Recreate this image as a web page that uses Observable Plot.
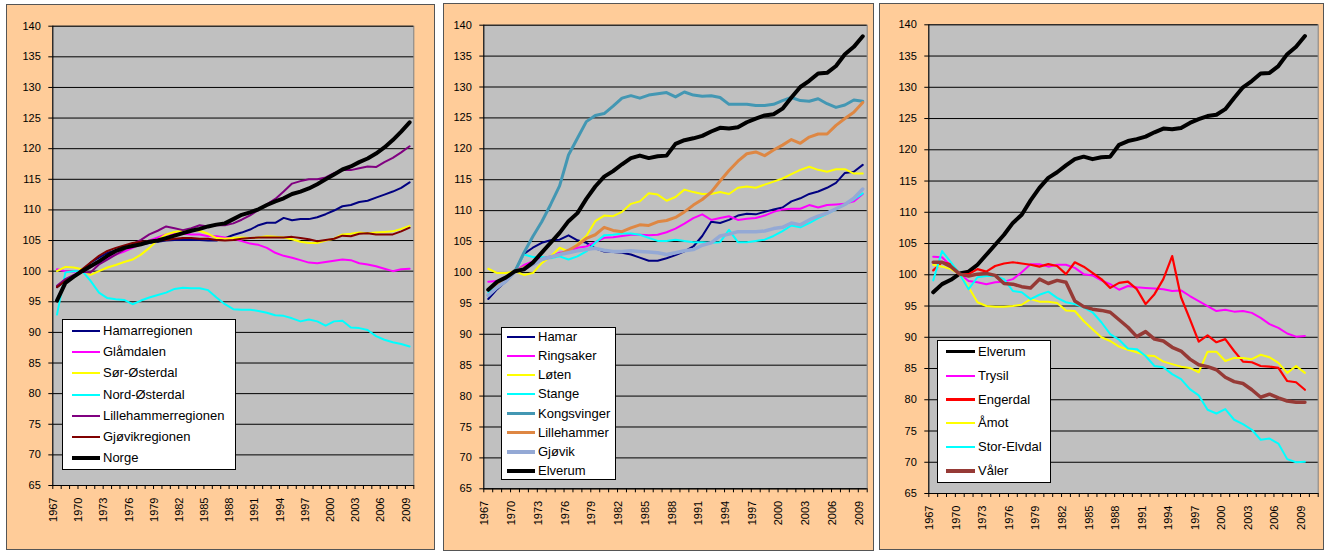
<!DOCTYPE html>
<html>
<head>
<meta charset="utf-8">
<script src="https://cdn.jsdelivr.net/npm/d3@7"></script>
<script src="https://cdn.jsdelivr.net/npm/@observablehq/plot@0.6"></script>
<style>
  html, body { margin: 0; padding: 0; background: #fff; }
  body { width: 1326px; height: 551px; position: relative; overflow: hidden;
         font-family: "Liberation Sans", Arial, sans-serif; }
  .panel { position: absolute; background: #FFCC99; border: 1px solid #555; box-sizing: border-box; }
  .chart { position: absolute; top: 0; }
  .legend { position: absolute; background: #fff; border: 1px solid #000; box-sizing: border-box; }
  .lg-line { position: absolute; }
  .lg-text { position: absolute; font-size: 13px; line-height: 16px; height: 16px; color: #000; white-space: nowrap; }
</style>
</head>
<body>
<script>
// ---------- data ----------
const years = [1967,1968,1969,1970,1971,1972,1973,1974,1975,1976,
               1977,1978,1979,1980,1981,1982,1983,1984,1985,1986,
               1987,1988,1989,1990,1991,1992,1993,1994,1995,1996,
               1997,1998,1999,2000,2001,2002,2003,2004,2005,2006,
               2007,2008,2009];
const yTicks = [65,70,75,80,85,90,95,100,105,110,115,120,125,130,135,140];
const xLabelYears = [1967,1970,1973,1976,1979,1982,1985,1988,1991,1994,1997,2000,2003,2006,2009];

// Panel 1: regions
const hamarregionen = [97.4,98.4,99.2,100.0,101.4,102.2,103.0,103.4,103.8,104.1,
  104.4,104.6,104.8,105.0,105.1,105.1,105.1,105.1,105.0,105.0,
  105.4,105.9,106.3,106.8,107.5,107.9,107.9,108.7,108.3,108.5,
  108.5,108.8,109.3,109.9,110.6,110.8,111.3,111.5,112.0,112.5,
  113.0,113.6,114.5];
const glamdalen = [100.3,100.0,99.9,100.0,100.6,101.4,102.2,102.7,103.2,103.8,
  104.4,105.0,105.5,106.0,106.1,106.1,106.0,106.0,105.7,105.7,
  105.5,105.3,104.9,104.5,104.3,103.8,103.0,102.5,102.2,101.8,
  101.4,101.3,101.5,101.7,101.9,101.8,101.3,101.1,100.8,100.4,
  100.0,100.3,100.4];
const sorOsterdal = [100.0,100.7,100.6,100.3,99.4,100.0,100.6,101.0,101.5,101.9,
  102.7,103.8,105.1,106.0,106.4,106.6,106.8,106.6,106.1,105.4,
  105.3,105.4,105.5,105.4,105.5,105.7,105.6,105.5,105.2,104.8,
  104.6,104.6,105.0,105.3,106.0,106.1,106.3,106.2,106.3,106.4,
  106.5,106.9,107.4];
const nordOsterdal = [92.9,99.8,100.0,100.0,98.4,96.5,95.6,95.4,95.3,94.6,
  95.2,95.7,96.1,96.5,97.1,97.3,97.2,97.2,96.9,95.7,
  94.6,93.8,93.7,93.7,93.5,93.2,92.8,92.7,92.3,91.8,
  92.1,91.8,91.1,91.8,91.9,90.8,90.7,90.4,89.4,88.8,
  88.4,88.1,87.7];
const lillehammerregionen = [97.6,98.7,99.4,99.9,99.8,101.1,101.9,102.7,103.5,104.4,
  105.1,106.0,106.6,107.3,107.0,106.7,107.0,107.5,107.3,107.5,
  107.5,107.8,108.4,109.1,110.0,110.9,111.8,113.0,114.3,114.7,
  115.0,115.0,115.3,116.0,116.5,116.5,116.8,117.1,117.0,117.8,
  118.5,119.4,120.4];
const gjovikregionen = [97.4,98.4,99.2,100.3,101.4,102.5,103.3,103.8,104.2,104.6,
  104.8,104.9,105.0,105.1,105.3,105.4,105.4,105.3,105.3,105.1,
  105.0,105.1,105.3,105.4,105.5,105.5,105.5,105.5,105.6,105.4,
  105.2,104.9,105.1,105.3,105.8,105.7,106.1,106.2,106.0,106.0,
  106.0,106.5,107.1];
const norge = [95.2,98.1,99.1,100.0,100.8,101.6,102.5,103.3,103.8,104.1,
  104.4,104.8,105.0,105.4,105.8,106.2,106.6,106.9,107.3,107.6,
  107.8,108.5,109.2,109.6,110.1,110.8,111.4,111.9,112.6,113.0,
  113.5,114.2,115.0,115.8,116.6,117.1,117.8,118.4,119.2,120.2,
  121.4,122.8,124.3];

// Panel 2: towns
const hamar = [95.7,97.3,98.6,100.2,103.0,104.0,104.8,105.2,105.3,106.0,
  105.2,104.8,103.9,103.4,103.3,103.2,102.9,102.4,101.9,101.9,
  102.3,102.8,103.4,104.2,105.9,108.2,108.0,108.5,109.2,109.5,
  109.4,109.8,110.2,110.5,111.5,112.0,112.7,113.1,113.7,114.5,
  116.1,116.3,117.4];
const ringsaker = [98.5,98.6,99.2,100.2,101.2,101.8,102.3,102.6,103.2,103.4,
  104.0,104.2,104.9,105.6,105.7,105.9,106.1,106.1,106.0,106.1,
  106.5,107.1,107.9,108.8,109.4,108.5,108.8,109.1,108.5,108.7,
  108.8,109.2,109.8,110.2,110.3,110.3,110.9,110.5,110.9,111.0,
  111.1,111.5,112.7];
const loten = [100.6,99.9,99.9,100.2,99.6,99.9,101.5,102.6,104.0,103.4,
  104.6,105.9,108.3,109.2,109.1,109.8,111.1,111.5,112.8,112.6,
  111.6,112.2,113.4,113.0,112.7,112.7,113.0,112.7,113.7,113.9,
  113.7,114.2,114.7,115.2,115.9,116.6,117.1,116.6,116.3,116.7,
  116.7,116.0,116.0];
const stange = [96.8,97.8,99.0,100.2,102.9,102.5,102.5,102.3,102.6,102.1,
  102.6,103.4,104.8,106.0,106.1,106.3,106.3,106.1,105.6,105.1,
  105.1,105.3,105.1,104.9,104.9,104.8,104.9,106.9,104.9,104.9,
  105.1,105.3,105.9,106.7,107.6,107.3,108.0,108.8,109.5,110.2,
  111.0,111.8,112.8];
const kongsvinger = [96.3,97.6,98.6,100.2,103.2,105.8,108.2,111.0,114.0,119.0,
  121.7,124.4,125.4,125.7,126.9,128.2,128.6,128.2,128.7,128.9,
  129.1,128.4,129.2,128.7,128.5,128.6,128.3,127.2,127.2,127.2,
  127.0,127.0,127.2,127.8,128.3,127.8,127.7,128.1,127.3,126.7,
  127.1,127.9,127.7];
const lillehammer = [97.2,98.2,99.1,100.2,100.8,101.3,102.1,102.5,102.9,103.6,
  104.4,105.5,106.1,107.3,106.8,106.6,107.2,107.7,107.6,108.2,
  108.4,108.9,109.8,110.9,111.8,113.0,114.8,116.5,118.0,119.2,
  119.5,118.9,119.8,120.6,121.5,120.9,121.9,122.4,122.4,123.8,
  124.9,125.9,127.5];
const gjovik = [96.3,97.6,98.6,100.2,100.6,101.3,102.1,102.5,102.9,103.2,
  103.5,103.7,103.9,103.6,103.4,103.4,103.5,103.4,103.3,103.2,
  102.9,103.2,103.5,103.7,104.4,104.8,105.9,106.2,106.6,106.6,
  106.6,106.7,107.1,107.3,108.0,107.7,108.5,109.1,109.6,110.3,
  111.0,112.0,113.5];
const elverum = [97.2,98.5,99.2,100.2,100.5,101.6,103.2,104.8,106.4,108.3,
  109.6,111.9,113.9,115.5,116.4,117.5,118.5,118.9,118.5,118.8,
  118.9,120.8,121.4,121.7,122.1,122.8,123.4,123.3,123.5,124.3,
  124.9,125.4,125.6,126.5,128.3,130.0,131.0,132.2,132.3,133.4,
  135.3,136.5,138.2];

// Panel 3: Østerdalen municipalities
const trysil = [102.9,102.8,101.4,100.1,99.0,98.8,98.5,98.8,98.9,99.3,
  100.4,101.7,101.7,101.3,101.6,101.6,101.1,100.1,99.9,99.1,
  98.5,97.6,98.2,98.0,97.9,97.8,97.7,97.4,97.5,96.6,
  95.8,95.0,94.2,94.4,94.1,94.2,93.9,93.1,92.1,91.5,
  90.6,90.1,90.2];
const engerdal = [100.7,102.0,101.7,100.1,100.1,100.9,100.5,101.4,101.8,102.0,
  101.8,101.6,101.3,101.7,101.4,100.1,102.0,101.3,100.3,99.3,
  97.9,98.7,98.9,97.7,95.3,96.9,99.3,103.0,96.4,92.9,
  89.3,90.3,89.2,89.7,87.8,86.1,86.0,85.4,85.3,85.1,
  83.0,82.8,81.6];
const amot = [101.6,101.3,100.9,100.1,98.0,95.6,95.0,94.9,94.9,95.0,
  95.2,96.1,95.7,95.7,95.5,94.3,94.2,92.6,91.3,90.0,
  89.4,88.5,88.0,87.6,87.1,87.0,86.1,85.7,85.3,85.1,
  84.4,87.7,87.7,86.2,86.7,86.7,86.5,87.2,86.8,85.9,
  84.3,85.4,84.3];
const storElvdal = [99.1,103.8,102.0,100.1,97.7,99.6,99.8,99.8,99.3,97.4,
  97.2,96.1,96.8,97.3,96.3,95.6,95.3,94.8,94.0,92.4,
  90.5,89.6,88.2,88.1,87.0,85.4,85.2,84.1,83.3,81.7,
  80.7,78.4,77.8,78.5,76.8,76.1,75.2,73.6,73.8,73.0,
  70.5,70.0,70.1];
const valer = [102.0,102.0,101.3,100.1,99.8,100.1,100.2,99.9,98.6,98.5,
  98.1,97.9,99.3,98.6,99.1,98.8,95.8,94.9,94.5,94.3,
  94.0,92.8,91.6,90.1,90.9,89.7,89.4,88.4,87.8,86.5,
  85.6,85.3,84.8,83.6,82.9,82.6,81.6,80.4,80.9,80.3,
  79.8,79.6,79.6];

// series lists (name, values, colour, width)
const series1 = [
  ["Hamarregionen", hamarregionen, "#000080", 2],
  ["Glåmdalen", glamdalen, "#FF00FF", 2],
  ["Sør-Østerdal", sorOsterdal, "#FFFF00", 2],
  ["Nord-Østerdal", nordOsterdal, "#00FFFF", 2],
  ["Lillehammerregionen", lillehammerregionen, "#800080", 2],
  ["Gjøvikregionen", gjovikregionen, "#800000", 2],
  ["Norge", norge, "#000000", 4]
];
const series2 = [
  ["Hamar", hamar, "#000080", 2],
  ["Ringsaker", ringsaker, "#FF00FF", 2],
  ["Løten", loten, "#FFFF00", 2],
  ["Stange", stange, "#00FFFF", 2],
  ["Kongsvinger", kongsvinger, "#4397B3", 3],
  ["Lillehammer", lillehammer, "#DE8743", 3],
  ["Gjøvik", gjovik, "#94A9D5", 3.5],
  ["Elverum", elverum, "#000000", 4]
];
const series3 = [
  ["Elverum", elverum, "#000000", 4],
  ["Trysil", trysil, "#FF00FF", 2],
  ["Engerdal", engerdal, "#FF0000", 2.2],
  ["Åmot", amot, "#FFFF00", 2],
  ["Stor-Elvdal", storElvdal, "#00FFFF", 2],
  ["Våler", valer, "#963A36", 3.5]
];

// ---------- layout ----------
const panels = [
  { box: [6, 4, 429, 546], ml: 46.3, mr: 21.7, mt: 25.7, mb: 66, last: 2009, series: series1,
    legend: { left: 62, top: 319, width: 174, height: 151, y0: 331, step: 21.2, lx0: 72, lx1: 100, tx: 103 } },
  { box: [443, 3, 431, 548], ml: 40.3, mr: 7.3, mt: 24.7, mb: 62.7, last: 2009, series: series2,
    legend: { left: 501, top: 327, width: 115, height: 153, y0: 336.7, step: 19.2, lx0: 507, lx1: 535, tx: 538 } },
  { box: [879, 3, 445, 547], ml: 49.3, mr: 6.3, mt: 24.3, mb: 58, last: 2010, series: series3,
    legend: { left: 937, top: 340, width: 114, height: 143, y0: 351.7, step: 23.9, lx0: 946, lx1: 975, tx: 978 } }
];

for (const p of panels) {
  const [bl, bt, bw, bh] = p.box;
  const box = document.createElement("div");
  box.className = "panel";
  Object.assign(box.style, { left: bl + "px", top: bt + "px", width: bw + "px", height: bh + "px" });
  document.body.appendChild(box);

  const xDomain = [1966.5, p.last + 0.5];
  const boundaries = d3.range(1966.5, p.last + 1, 1);

  const marks = [
    Plot.frame({ fill: "#C0C0C0", stroke: "#808080" }),
    Plot.gridY(yTicks, { stroke: "#000", strokeOpacity: 1, strokeWidth: 1 }),
    ...p.series.map(([name, vals, color, w]) =>
      Plot.lineY(vals, { x: years, y: vals, stroke: color, strokeWidth: w, strokeLinejoin: "round", strokeLinecap: "round" })),
    Plot.ruleX([xDomain[0]], { stroke: "#000", strokeWidth: 1 }),
    Plot.ruleY([65], { stroke: "#000", strokeWidth: 1 }),
    Plot.axisY(yTicks, { tickSize: 4, tickPadding: 8, label: null, fontSize: 11 }),
    Plot.axisX(boundaries, { tickSize: 4, tickFormat: () => "", label: null }),
    Plot.text(xLabelYears, { x: d => d, text: d => String(d), frameAnchor: "bottom", rotate: -90,
      textAnchor: "end", dy: 12, fontSize: 11 })
  ];

  const chart = Plot.plot({
    width: bw, height: 551,
    marginLeft: p.ml, marginRight: p.mr, marginTop: p.mt, marginBottom: p.mb,
    x: { domain: xDomain },
    y: { domain: [65, 140] },
    style: { background: "transparent", fontFamily: "'Liberation Sans', Arial, sans-serif", fontSize: "11px", color: "#000", overflow: "visible" },
    marks
  });
  chart.classList.add("chart");
  chart.style.left = bl + "px";
  document.body.appendChild(chart);

  // legend
  const L = p.legend;
  const lg = document.createElement("div");
  lg.className = "legend";
  Object.assign(lg.style, { left: L.left + "px", top: L.top + "px", width: L.width + "px", height: L.height + "px" });
  document.body.appendChild(lg);
  p.series.forEach(([name, vals, color, w], i) => {
    const cy = L.y0 + i * L.step;
    const ln = document.createElement("div");
    ln.className = "lg-line";
    const lw = Math.min(w, 3.5);
    Object.assign(ln.style, { left: L.lx0 + "px", top: (cy - lw / 2) + "px", width: (L.lx1 - L.lx0) + "px",
      height: lw + "px", background: color });
    document.body.appendChild(ln);
    const tx = document.createElement("div");
    tx.className = "lg-text";
    tx.textContent = name;
    Object.assign(tx.style, { left: L.tx + "px", top: (cy - 8) + "px" });
    document.body.appendChild(tx);
  });
}
</script>
</body>
</html>
